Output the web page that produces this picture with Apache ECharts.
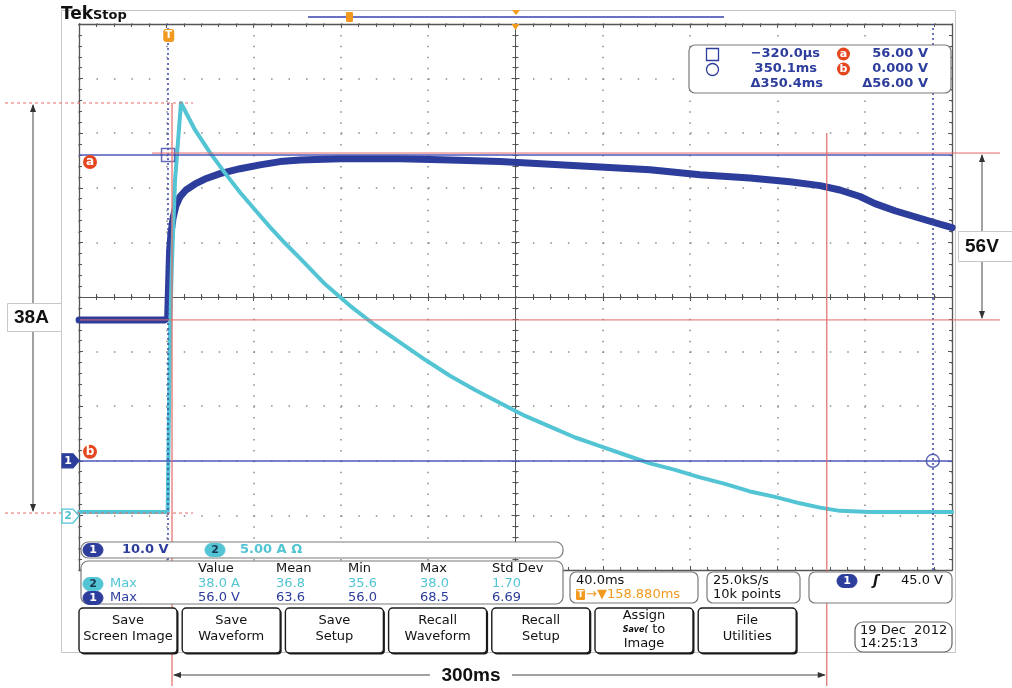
<!DOCTYPE html>
<html>
<head>
<meta charset="utf-8">
<script src="https://cdn.jsdelivr.net/npm/echarts@6/dist/echarts.min.js"></script>
<style>
  html, body { margin: 0; padding: 0; background: #fff; }
  #scope { width: 1012px; height: 688px; }
</style>
</head>
<body>
<div id="scope"></div>
<script>
// Horizontal: 40 ms/div, trigger point 158.88 ms left of the screen centre
const timeSpanMs = [-41.12, 358.88];
const triggerPosMs = 158.88;

// Channel 1: DC bus voltage (10 V/div, ground 3 div below centre)
const ch1Range = [-20, 80];
const ch1TimeMs = [-41.1, -22.3, -1.7, -0.5, 0, 0.4, 1.1, 2.0, 3.3, 5.2, 7.9, 12.1, 16.6, 23.5, 32.7, 41.8, 51.0, 60.2, 78.5, 106, 128.9, 151.8, 174.7, 197.6, 220.5, 243.4, 266.3, 284.6, 298.4, 307.5, 316.7, 323.6, 332.7, 341.9, 351.1, 358.9];
const ch1Volts  = [25.8, 25.8, 25.8, 26.2, 33.2, 38.6, 41.9, 44.5, 46.7, 48.4, 49.6, 50.7, 51.6, 52.6, 53.5, 54.2, 54.8, 55.1, 55.3, 55.3, 55.1, 54.8, 54.3, 53.8, 53.3, 52.4, 51.8, 51.1, 50.4, 49.6, 48.4, 47.1, 45.8, 44.7, 43.6, 42.7];

// Channel 2: load current (5 A/div)
const ch2Range = [-5.28, 45.32];
const ch2TimeMs = [-41.1, -20, -0.5, 0, 0.6, 1.5, 2.9, 5.6, 12.05, 18.9, 25.8, 32.7, 39.5, 46.4, 53.3, 60.2, 71.7, 83.1, 94.6, 106.1, 117.5, 129, 140.4, 151.8, 163.3, 174.7, 186.2, 197.6, 209, 220.5, 232, 243.4, 254.9, 266.3, 277.8, 289.2, 298.4, 307.5, 321.3, 358.9];
const ch2Amps   = [0.1, 0.1, 0.1, 0.1, 17, 23.4, 30.9, 38, 35.5, 33.4, 31.5, 29.7, 28.1, 26.5, 25.0, 23.6, 21.2, 19.2, 17.4, 15.8, 14.2, 12.7, 11.4, 10.2, 9.0, 8.0, 7.0, 6.2, 5.4, 4.6, 4.0, 3.3, 2.7, 2.0, 1.5, 0.9, 0.5, 0.2, 0.1, 0.1];

// Cursors (square / circle) and their voltage levels on channel 1
const cursorTimesMs = [-0.32, 350.1];
const cursorVolts = [56, 0];

// Annotation values
const peakAmps = 38;
const stepVolts = [56, 25.8];
const spanMarksMs = [1.5, 301.5];

// Measurement table
const measHeader = ['Value', 'Mean', 'Min', 'Max', 'Std Dev'];
const measCh2 = ['38.0 A', '36.8', '35.6', '38.0', '1.70'];
const measCh1 = ['56.0 V', '63.6', '56.0', '68.5', '6.69'];
const buttonLabels = [['Save', 'Screen Image'], ['Save', 'Waveform'], ['Save', 'Setup'], ['Recall', 'Waveform'], ['Recall', 'Setup'], ['Assign', '{s|Save(} to', 'Image'], ['File', 'Utilities']];

const FONT = '"DejaVu Sans", sans-serif';
const AFONT = '"Liberation Sans", Arial, sans-serif';
const C1 = '#2d3d9c', C2 = '#52c4d3', CUR = '#4d58b8', ORANGE = '#f29a1f', RED = '#e46a6a', BADGE = '#e4461e';
const GRIDC = '#8a8a8a', BORDERC = '#555';

const GRID = { left: 79, top: 24, width: 873, height: 546 };

function divAxis(pos, opts) {
  const o = opts || {};
  return {
    type: 'value', min: -5, max: 5, interval: 1, position: pos,
    axisLabel: { show: false },
    axisLine: { show: true, onZero: !!o.onZero, onZeroAxisIndex: o.zeroIdx, lineStyle: { color: BORDERC, width: o.onZero ? 1 : 1.3 } },
    axisTick: { show: true, inside: true, length: 4, lineStyle: { color: BORDERC, width: 1 } },
    minorTick: { show: true, splitNumber: 5, length: 3, lineStyle: { color: BORDERC, width: 1 } },
    splitLine: o.split ? { show: true, lineStyle: { color: GRIDC, width: 1.5, type: o.split } } : { show: false },
    minorSplitLine: { show: false }
  };
}
function hiddenAxis(range) {
  return { type: 'value', min: range[0], max: range[1], show: false, axisLine: { onZero: false }, splitLine: { show: false } };
}

function zip(a, b) { return a.map((v, i) => [v, b[i]]); }

const chart = echarts.init(document.getElementById('scope'));

function txt(x, y, text, o) {
  o = o || {};
  return {
    type: 'text', x: x, y: y, z: o.z || 110,
    style: {
      text: text, font: o.font || ('bold 13px ' + FONT), fill: o.fill || '#000',
      align: o.align || 'left', textAlign: o.align || 'left',
      verticalAlign: o.valign || 'middle', textVerticalAlign: o.valign || 'middle',
      rich: o.rich
    }
  };
}
function box(x, y, w, h, o) {
  o = o || {};
  return { type: 'rect', z: o.z || 100, shape: { x: x, y: y, width: w, height: h, r: o.r == null ? 6 : o.r },
    style: { fill: o.fill || '#fff', stroke: o.stroke || '#7a7a7a', lineWidth: o.lw || 1.2 } };
}
function pill(cx, cy, label, color, textColor) {
  return [
    { type: 'rect', z: 105, shape: { x: cx - 10, y: cy - 6.5, width: 20, height: 13, r: 6.5 },
      style: { fill: color, stroke: color, lineWidth: 1 } },
    txt(cx, cy + 0.5, label, { align: 'center', fill: textColor, font: 'bold 11px ' + FONT, z: 106 })
  ];
}

// Static instrument chrome: frame, header, readouts, soft buttons
const chrome = [];
chrome.push({ type: 'rect', z: 1, shape: { x: 61.5, y: 10.5, width: 894, height: 642 }, style: { fill: 'none', stroke: '#c6c6c6', lineWidth: 1 } });
chrome.push(txt(61, 23, 'Tek', { font: 'bold 17px ' + FONT, fill: '#111', valign: 'bottom' }));
chrome.push(txt(93, 22.5, 'Stop', { font: 'bold 13px ' + FONT, fill: '#111', valign: 'bottom' }));
chrome.push({ type: 'line', z: 100, shape: { x1: 308, y1: 17, x2: 724, y2: 17 }, style: { stroke: '#6a72c4', lineWidth: 2 } });
chrome.push({ type: 'rect', z: 101, shape: { x: 346, y: 12, width: 7, height: 10, r: 1 }, style: { fill: ORANGE } });
chrome.push({ type: 'polygon', z: 101, shape: { points: [[512, 10], [520, 10], [516, 15]] }, style: { fill: ORANGE } });

// Cursor readout box
chrome.push(box(689, 45, 262, 48, { r: 6 }));
chrome.push({ type: 'rect', z: 106, shape: { x: 706.5, y: 48.5, width: 12, height: 12 }, style: { fill: 'none', stroke: C1, lineWidth: 1.3 } });
chrome.push({ type: 'circle', z: 106, shape: { cx: 712.5, cy: 69.5, r: 6 }, style: { fill: 'none', stroke: C1, lineWidth: 1.3 } });
chrome.push(txt(820, 54, '\u2212320.0\u00b5s', { align: 'right', fill: C1 }));
chrome.push(txt(817, 69, '350.1ms', { align: 'right', fill: C1 }));
chrome.push(txt(823, 84, '\u0394350.4ms', { align: 'right', fill: C1 }));
chrome.push(txt(928, 54, '56.00 V', { align: 'right', fill: C1 }));
chrome.push(txt(928, 69, '0.000 V', { align: 'right', fill: C1 }));
chrome.push(txt(928, 84, '\u039456.00 V', { align: 'right', fill: C1 }));
[['a', 54], ['b', 69]].forEach(function (b) {
  chrome.push({ type: 'circle', z: 106, shape: { cx: 843.5, cy: b[1], r: 6.5 }, style: { fill: BADGE } });
  chrome.push(txt(843.5, b[1], b[0], { align: 'center', fill: '#fff', font: 'bold 11px ' + FONT, z: 107 }));
});

// Vertical scale readout
chrome.push(box(81, 542, 482, 16, { r: 7 }));
chrome.push.apply(chrome, pill(93, 550, '1', C1, '#fff'));
chrome.push(txt(122, 550, '10.0 V', { fill: C1 }));
chrome.push.apply(chrome, pill(215, 550, '2', C2, '#1b3553'));
chrome.push(txt(240, 550, '5.00 A \u03a9', { fill: C2 }));

// Measurement table
chrome.push(box(81, 561, 482, 43, { r: 7 }));
const colX = [198, 276, 348, 420, 492];
measHeader.forEach(function (h, i) { chrome.push(txt(colX[i], 569, h, { font: '13px ' + FONT, fill: '#111' })); });
chrome.push.apply(chrome, pill(93, 584, '2', C2, '#1b3553'));
chrome.push(txt(110, 584, 'Max', { font: '13px ' + FONT, fill: C2 }));
measCh2.forEach(function (v, i) { chrome.push(txt(colX[i], 584, v, { font: '13px ' + FONT, fill: C2 })); });
chrome.push.apply(chrome, pill(93, 598, '1', C1, '#fff'));
chrome.push(txt(110, 598, 'Max', { font: '13px ' + FONT, fill: C1 }));
measCh1.forEach(function (v, i) { chrome.push(txt(colX[i], 598, v, { font: '13px ' + FONT, fill: C1 })); });

// Horizontal / acquisition / trigger readouts
chrome.push(box(570, 572, 128, 31, { r: 6 }));
chrome.push(txt(576, 581, '40.0ms', { font: '13px ' + FONT, fill: '#111' }));
chrome.push({ type: 'rect', z: 106, shape: { x: 576, y: 589, width: 9, height: 11, r: 1.5 }, style: { fill: ORANGE } });
chrome.push(txt(580.5, 594.5, 'T', { align: 'center', fill: '#fff', font: 'bold 9px ' + FONT, z: 107 }));
chrome.push(txt(586, 595, '\u2192\u25bc158.880ms', { font: '13px ' + FONT, fill: ORANGE }));
chrome.push(box(707, 572, 93, 31, { r: 6 }));
chrome.push(txt(713, 581, '25.0kS/s', { font: '13px ' + FONT, fill: '#111' }));
chrome.push(txt(713, 595, '10k points', { font: '13px ' + FONT, fill: '#111' }));
chrome.push(box(809, 572, 143, 31, { r: 6 }));
chrome.push.apply(chrome, pill(847, 581, '1', C1, '#fff'));
chrome.push(txt(876, 581, '\u0283', { font: 'bold italic 14px ' + FONT, fill: '#111', align: 'center' }));
chrome.push(txt(943, 581, '45.0 V', { font: '13px ' + FONT, fill: '#111', align: 'right' }));

// Soft-key row
buttonLabels.forEach(function (lines, i) {
  const x = 79 + i * 103.2, w = 98, y = 608, h = 45;
  chrome.push({ type: 'rect', z: 100, shape: { x: x + 1.5, y: y + 1.5, width: w, height: h, r: 4 }, style: { fill: '#1a1a1a' } });
  chrome.push({ type: 'rect', z: 101, shape: { x: x, y: y, width: w, height: h, r: 4 }, style: { fill: '#fff', stroke: '#1a1a1a', lineWidth: 1.4 } });
  const ys = lines.length === 2 ? [621, 637] : [616, 630, 644];
  lines.forEach(function (l, k) {
    chrome.push(txt(x + w / 2, ys[k], l, { align: 'center', font: '13px ' + FONT, fill: '#111', z: 102,
      rich: { s: { font: 'bold italic 8px ' + FONT, fill: '#111', color: '#111' } } }));
  });
});
chrome.push(box(855, 622, 97, 30, { r: 8, stroke: '#666' }));
chrome.push(txt(860, 631, '19 Dec  2012', { font: '13px ' + FONT, fill: '#111' }));
chrome.push(txt(860, 644, '14:25:13', { font: '13px ' + FONT, fill: '#111' }));

const option = {
  backgroundColor: '#fff',
  animation: false,
  grid: GRID,
  xAxis: [
    hiddenAxis(timeSpanMs),
    divAxis('bottom', { split: [1.5, 9.42] }),
    divAxis('top'),
    divAxis('bottom', { onZero: true, zeroIdx: 2 }),
    divAxis('top', { onZero: true, zeroIdx: 2 })
  ],
  yAxis: [
    hiddenAxis(ch1Range),
    hiddenAxis(ch2Range),
    divAxis('left', { split: [1.5, 15.96] }),
    divAxis('right'),
    divAxis('left', { onZero: true, zeroIdx: 1 }),
    divAxis('right', { onZero: true, zeroIdx: 1 })
  ],
  series: [
    {
      name: 'CH1', type: 'line', xAxisIndex: 0, yAxisIndex: 0, z: 3,
      data: zip(ch1TimeMs, ch1Volts), showSymbol: false,
      lineStyle: { color: C1, width: 7, join: 'round', cap: 'round' }
    },
    {
      name: 'CH2', type: 'line', xAxisIndex: 0, yAxisIndex: 1, z: 4,
      data: zip(ch2TimeMs, ch2Amps), showSymbol: false,
      lineStyle: { color: C2, width: 4, join: 'round', cap: 'round' }
    },
    {
      name: 'Cursors', type: 'scatter', xAxisIndex: 0, yAxisIndex: 0, z: 5,
      data: cursorTimesMs.map(function (t, i) { return { value: [t, cursorVolts[i]], symbol: i ? 'circle' : 'rect' }; }),
      symbolSize: 13, silent: true,
      itemStyle: { color: 'rgba(255,255,255,0)', borderColor: '#3b47a8', borderWidth: 1.5 },
      markLine: {
        silent: true, symbol: ['none', 'none'], label: { show: false },
        data: [
          { yAxis: cursorVolts[0], lineStyle: { color: CUR, width: 1.5, type: 'solid' } },
          { yAxis: cursorVolts[1], lineStyle: { color: CUR, width: 1.5, type: 'solid' } },
          { xAxis: cursorTimesMs[0], lineStyle: { color: '#3b47a8', width: 1.5, type: [2, 3] } },
          { xAxis: cursorTimesMs[1], lineStyle: { color: '#3b47a8', width: 1.5, type: [2, 3] } }
        ]
      }
    }
  ],
  graphic: { elements: chrome }
};
chart.setOption(option);

// Markers and annotations placed through the chart's own scales
const px = function (t) { return chart.convertToPixel({ xAxisIndex: 0 }, t); };
const pyV = function (v) { return chart.convertToPixel({ yAxisIndex: 0 }, v); };
const pyA = function (a) { return chart.convertToPixel({ yAxisIndex: 1 }, a); };

function seg(x1, y1, x2, y2, color, w, dash, z) {
  return { type: 'line', z: z || 60, shape: { x1: x1, y1: y1, x2: x2, y2: y2 }, style: { stroke: color, lineWidth: w || 1, lineDash: dash || null } };
}
function head(x, y, dir) {
  const L = 8, W = 3;
  const pts = dir === 'up' ? [[x, y], [x - W, y + L], [x + W, y + L]]
    : dir === 'down' ? [[x, y], [x - W, y - L], [x + W, y - L]]
    : dir === 'left' ? [[x, y], [x + L, y - W], [x + L, y + W]]
    : [[x, y], [x - L, y - W], [x - L, y + W]];
  return { type: 'polygon', z: 61, shape: { points: pts }, style: { fill: '#333' } };
}
function tag(y, label, filled, color) {
  return [
    { type: 'polygon', z: 108, shape: { points: [[62, y - 7], [73, y - 7], [79, y], [73, y + 7], [62, y + 7]] },
      style: { fill: filled ? color : '#fff', stroke: color, lineWidth: 1.3 } },
    txt(68, y + 0.5, label, { align: 'center', font: 'bold 11px ' + FONT, fill: filled ? '#fff' : color, z: 109 })
  ];
}

const xL = px(spanMarksMs[0]), xR = px(spanMarksMs[1]);
const yPeak = pyA(peakAmps), yZeroA = pyA(0);
const yTopV = pyV(stepVolts[0]) - 2, yLowV = pyV(stepVolts[1]);
const yCurA = pyV(cursorVolts[0]), yCurB = pyV(cursorVolts[1]);
const xTrig = px(0), xCentre = px(triggerPosMs);

const notes = [];
// Current step (38 A)
notes.push(seg(5, yPeak, 193, yPeak, RED, 1, [3, 3]));
notes.push(seg(5, yZeroA, 193, yZeroA, RED, 1, [3, 3]));
notes.push(seg(33, yPeak + 2, 33, 303, '#444', 1));
notes.push(seg(33, 331, 33, yZeroA - 2, '#444', 1));
notes.push(head(33, yPeak + 1, 'up'), head(33, yZeroA - 1, 'down'));
notes.push({ type: 'rect', z: 62, shape: { x: 7.5, y: 303.5, width: 54, height: 28 }, style: { fill: '#fff', stroke: '#c8c8c8', lineWidth: 1 } });
notes.push(txt(14, 318, '38A', { font: 'bold 19px ' + AFONT, fill: '#111', z: 63 }));
// Voltage step (56 V)
notes.push(seg(152, yTopV, 1000, yTopV, RED, 1));
notes.push(seg(80, yLowV, 1000, yLowV, RED, 1));
notes.push(seg(982, yTopV + 2, 982, 231, '#444', 1));
notes.push(seg(982, 261, 982, yLowV - 2, '#444', 1));
notes.push(head(982, yTopV + 1, 'up'), head(982, yLowV - 1, 'down'));
notes.push({ type: 'rect', z: 62, shape: { x: 958.5, y: 231.5, width: 60, height: 30 }, style: { fill: '#fff', stroke: '#c8c8c8', lineWidth: 1 } });
notes.push(txt(965, 247, '56V', { font: 'bold 19px ' + AFONT, fill: '#111', z: 63 }));
// Pulse length (300 ms)
notes.push(seg(xL, yPeak, xL, 686, RED, 1.2));
notes.push(seg(xR, 133, xR, 686, RED, 1.2));
notes.push(seg(xL + 2, 675, 430, 675, '#444', 1));
notes.push(seg(512, 675, xR - 2, 675, '#444', 1));
notes.push(head(xL + 1, 675, 'left'), head(xR - 1, 675, 'right'));
notes.push(txt(471, 676, '300ms', { font: 'bold 19px ' + AFONT, fill: '#111', align: 'center', z: 63 }));

// Channel ground markers and cursor badges
notes.push.apply(notes, tag(yCurB, '1', true, C1));
notes.push.apply(notes, tag(yZeroA + 3, '2', false, C2));
[['a', yCurA + 7], ['b', yCurB - 9]].forEach(function (b) {
  notes.push({ type: 'circle', z: 108, shape: { cx: 90, cy: b[1], r: 7 }, style: { fill: BADGE } });
  notes.push(txt(90, b[1], b[0], { align: 'center', fill: '#fff', font: 'bold 12px ' + FONT, z: 109 }));
});
// Trigger point and trigger position markers
notes.push({ type: 'rect', z: 108, shape: { x: xTrig - 5.5, y: 29, width: 11, height: 13, r: 3 }, style: { fill: ORANGE } });
notes.push(txt(xTrig, 35.5, 'T', { align: 'center', fill: '#fff', font: 'bold 10px ' + FONT, z: 109 }));
notes.push({ type: 'polygon', z: 108, shape: { points: [[xCentre - 4, 24], [xCentre + 4, 24], [xCentre, 30]] }, style: { fill: ORANGE } });

chart.setOption({ graphic: { elements: chrome.concat(notes) } });
</script>
</body>
</html>
